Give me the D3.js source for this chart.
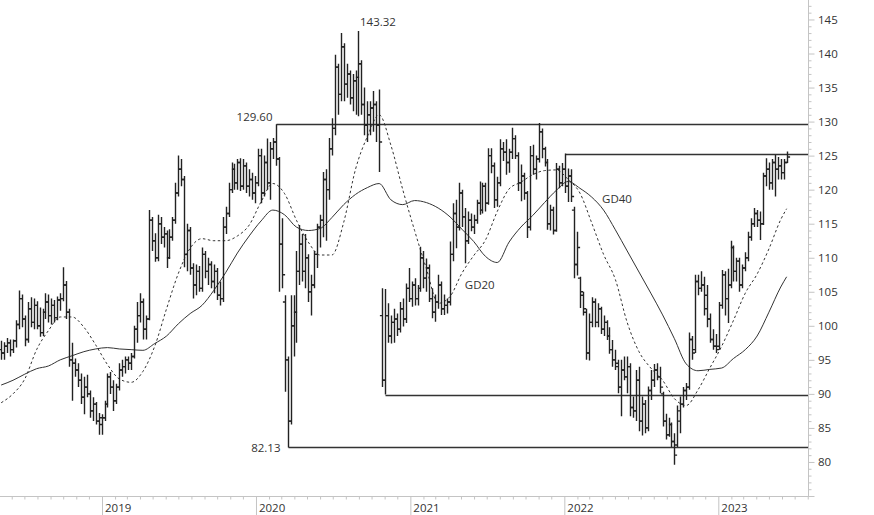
<!DOCTYPE html>
<html><head><meta charset="utf-8">
<script src="https://cdn.jsdelivr.net/npm/d3@7"></script>
<style>body{margin:0;background:#fff}svg{display:block;font-family:"Open Sans",sans-serif}</style>
</head><body><svg id="c" width="874" height="515"></svg>
<script>
// ---- DATA (weekly OHLC, first week starting 2018-05-07) ----
const firstWeek = "2018-05-07";
const opens = [
96.5,96.0,97.0,97.5,96.5,97.8,100.2,104.0,101.0,98.0,
102.5,100.5,103.0,100.0,99.0,102.0,103.5,101.5,103.0,101.2,
103.8,104.0,106.0,102.0,95.0,94.5,93.5,92.0,89.5,91.0,
90.0,87.5,88.5,86.0,85.5,86.5,88.5,92.5,91.0,89.0,
91.0,93.5,94.0,95.0,94.5,95.5,99.5,101.5,103.5,99.5,
101.0,115.5,112.5,110.0,115.0,113.0,113.5,110.0,113.0,115.5,
119.5,123.0,121.5,110.5,114.0,108.5,106.0,108.0,105.5,110.5,
108.0,109.0,106.5,108.0,104.5,104.0,114.5,116.5,120.0,123.0,
121.0,124.0,120.5,123.5,120.5,121.5,119.5,121.0,125.0,119.5,
124.0,121.0,126.0,127.0,124.5,112.0,103.5,95.0,86.0,100.0,
102.0,108.0,112.0,108.0,110.0,105.0,106.0,110.5,114.5,115.5,
121.5,120.0,126.0,129.0,138.0,134.0,141.0,135.5,137.0,133.5,
136.0,136.5,138.5,132.5,129.5,131.0,132.0,132.5,129.5,101.5,
92.0,101.5,98.5,100.5,101.0,99.5,102.5,101.0,105.5,104.0,
106.0,104.0,105.5,110.0,107.0,108.5,104.0,102.0,103.5,106.0,
102.5,103.0,103.5,110.5,116.5,114.5,119.5,116.0,112.5,115.5,
114.5,115.5,118.0,117.0,120.5,118.0,125.0,123.5,118.5,121.0,
126.0,125.5,124.0,125.5,127.5,125.0,121.0,122.0,119.5,114.5,
125.0,123.0,124.5,128.5,126.0,124.0,115.0,117.0,114.0,123.0,
121.0,123.0,120.5,122.0,117.0,109.0,107.0,104.5,102.0,96.0,
100.5,103.5,100.5,102.5,99.5,100.5,98.5,96.5,95.0,94.5,
91.0,93.5,92.5,94.0,88.0,87.5,92.0,86.0,88.5,85.0,
90.5,92.0,93.5,92.5,90.0,86.0,84.0,85.5,83.0,82.5,
86.0,88.5,90.5,91.0,98.0,96.5,106.5,105.5,106.0,104.5,
101.0,98.0,97.0,97.0,103.0,107.5,104.0,106.0,111.5,108.0,
109.5,106.0,108.5,110.0,113.0,115.0,116.5,115.5,115.0,122.0,
123.0,121.0,124.0,123.0,123.5,122.5,124.0];
const highs = [
97.8,97.6,98.2,98.0,98.0,100.8,105.2,104.6,101.5,103.5,
104.2,104.0,103.6,102.7,102.5,104.8,104.6,104.0,103.8,104.3,
104.8,108.6,106.6,102.5,97.5,95.2,94.5,93.0,92.5,92.8,
90.5,89.5,88.8,87.2,87.0,89.0,93.0,93.2,92.0,91.5,
94.5,95.0,95.5,95.5,96.0,100.0,103.5,104.8,104.0,101.5,
117.0,116.0,113.6,116.3,116.0,114.5,114.0,114.2,116.0,121.0,
125.0,124.5,122.0,115.0,114.5,109.2,109.0,108.8,111.5,111.0,
110.0,109.5,109.0,108.5,106.5,116.0,117.5,121.0,124.0,123.8,
124.5,124.6,124.5,124.0,123.0,122.5,122.0,126.0,126.0,125.0,
127.5,127.0,127.6,129.6,124.8,115.8,104.5,95.5,104.5,104.5,
111.0,114.8,113.5,113.5,110.5,107.5,111.0,115.0,116.3,122.6,
123.0,127.6,130.5,139.8,138.5,143.0,141.5,138.5,137.5,137.0,
137.5,143.32,139.0,135.0,133.0,133.0,134.5,133.0,134.7,105.5,
105.4,103.3,101.5,102.5,101.8,103.5,104.0,106.2,108.5,106.5,
107.0,106.0,111.6,111.0,109.9,109.0,105.5,104.6,107.5,106.5,
104.6,104.0,112.4,118.0,118.5,121.0,120.0,117.3,116.8,116.5,
116.3,118.5,121.2,121.0,121.0,126.1,126.1,124.0,121.9,127.4,
127.0,127.4,126.0,129.1,128.0,125.5,123.7,122.5,119.8,126.4,
126.6,125.0,129.8,129.0,126.3,124.5,117.8,117.5,123.9,123.5,
123.9,125.3,123.1,123.0,117.5,113.8,107.2,105.0,102.5,101.8,
104.2,104.0,103.3,102.8,101.5,100.8,99.8,97.9,96.5,95.0,
95.0,95.5,95.5,94.5,89.6,93.5,94.0,89.6,89.1,91.1,
93.5,94.4,94.5,94.0,90.3,87.1,86.5,85.8,84.2,88.3,
89.6,91.0,91.6,99.0,98.5,107.5,107.5,108.0,107.2,106.0,
101.8,99.5,98.8,103.5,108.2,108.0,108.4,112.5,111.8,110.0,
110.0,109.0,110.8,113.8,115.8,117.3,117.0,116.8,122.5,124.6,
124.0,124.5,125.1,124.8,124.5,124.5,125.6];
const lows = [
95.0,95.0,96.0,95.5,96.0,96.8,99.5,99.8,97.0,97.5,
99.8,99.5,99.5,98.4,98.5,101.0,100.5,100.2,100.5,100.8,
102.2,103.6,101.0,94.0,89.0,92.5,91.0,88.5,87.0,89.5,
86.5,86.0,85.5,84.0,84.0,86.0,88.0,90.0,87.5,88.5,
90.5,92.5,93.0,93.5,93.5,95.2,97.5,100.5,98.0,98.0,
100.8,111.0,109.4,109.5,112.0,111.5,108.5,109.8,112.5,115.0,
119.0,120.5,108.6,108.0,107.5,104.0,104.5,105.0,105.0,107.0,
106.0,105.5,104.8,103.8,103.0,103.5,113.5,116.0,119.5,120.0,
120.0,119.8,120.0,119.5,119.0,118.5,118.0,120.5,118.0,119.0,
120.0,118.5,124.5,123.5,105.0,105.5,90.3,82.13,85.5,95.5,
97.5,106.0,106.5,105.5,103.5,101.5,105.5,108.5,111.5,113.0,
112.5,118.5,125.0,128.0,131.0,133.0,133.0,133.5,132.5,131.5,
131.0,130.8,131.0,128.0,127.0,128.0,128.5,127.0,122.6,91.0,
89.9,97.5,97.4,97.5,98.5,99.0,99.9,100.4,103.5,102.8,
103.0,103.0,105.0,105.5,105.0,103.5,101.1,100.6,102.5,101.6,
101.6,101.8,103.0,109.5,111.4,114.0,114.5,109.2,112.0,113.9,
113.5,115.0,116.3,116.5,116.8,117.8,122.4,117.3,117.5,120.5,
124.2,122.2,122.5,124.5,124.5,119.8,118.3,118.5,112.9,114.0,
122.2,121.5,124.0,124.6,123.4,114.1,114.0,113.4,113.8,120.2,
120.5,119.5,118.2,118.2,107.0,107.4,102.6,101.5,95.0,94.9,
99.8,99.8,99.8,98.8,98.5,97.9,95.9,94.0,93.5,90.1,
86.7,92.0,90.1,86.7,86.5,86.0,84.5,83.9,84.2,84.5,
89.1,91.0,92.0,90.1,85.2,83.3,83.7,82.2,79.6,82.2,
84.2,88.0,89.1,90.6,95.0,96.0,104.5,105.0,101.5,99.8,
97.5,96.5,96.0,96.5,102.5,101.5,100.4,105.5,106.5,106.5,
105.0,105.5,108.0,109.5,112.5,114.5,114.5,112.6,114.8,120.5,
120.0,120.0,119.0,121.5,121.5,121.5,123.9];
const closes = [
96.0,97.0,97.5,96.5,97.8,100.2,104.0,101.0,98.0,102.5,
100.5,103.0,100.0,99.0,102.0,103.5,101.5,103.0,101.2,103.8,
104.0,106.0,102.0,95.0,94.5,93.5,92.0,89.5,91.0,90.0,
87.5,88.5,86.0,86.5,86.5,88.5,92.5,91.0,89.0,91.0,
93.5,94.0,95.0,94.5,95.5,99.5,101.5,103.5,99.5,101.0,
115.5,112.5,110.0,115.0,113.0,113.5,110.0,113.0,115.5,119.5,
123.0,121.5,110.5,114.0,108.5,106.0,108.0,105.5,110.5,108.0,
109.0,106.5,108.0,104.5,104.0,114.5,116.5,120.0,123.0,121.0,
124.0,120.5,123.5,120.5,121.5,119.5,121.0,125.0,119.5,124.0,
121.0,126.0,127.0,124.5,112.0,107.5,95.0,86.0,100.0,102.0,
108.0,112.0,108.0,110.0,105.0,106.0,110.5,114.5,115.5,121.5,
120.0,126.0,129.0,138.0,134.0,141.0,135.5,137.0,133.5,136.0,
136.5,138.5,132.5,129.5,131.0,132.0,132.5,129.5,127.0,92.0,
101.5,98.5,100.5,101.0,99.5,102.5,101.0,105.5,104.0,106.0,
104.0,105.5,110.0,107.0,108.5,104.0,102.0,103.5,106.0,102.5,
103.0,103.5,110.5,116.5,114.5,119.5,116.0,112.5,115.5,114.5,
115.5,118.0,117.0,120.5,118.0,125.0,123.5,118.5,121.0,126.0,
125.5,124.0,125.5,127.5,125.0,121.0,122.0,119.5,114.5,125.0,
123.0,124.5,128.5,126.0,124.0,115.0,117.0,114.0,123.0,121.0,
123.0,120.5,122.0,119.0,109.0,111.5,105.0,102.5,96.0,100.5,
103.5,100.5,102.5,99.5,100.5,98.5,96.5,95.0,94.0,91.0,
93.5,92.5,94.0,88.0,87.5,92.0,86.0,88.5,85.0,90.5,
92.0,93.5,92.5,91.0,86.0,84.0,85.5,83.0,81.0,87.5,
88.5,90.5,91.0,98.0,96.0,106.5,105.5,106.0,102.5,101.0,
98.0,97.0,96.5,103.0,107.5,104.0,106.0,111.5,108.0,109.5,
106.0,108.5,110.0,113.0,115.0,116.5,115.5,115.0,122.0,123.0,
121.0,124.0,123.0,123.5,122.5,124.0,124.8];

// moving averages, at these week numbers
const maWeeks = [0,4,8,12,16,20,24,28,32,36,40,44,48,52,56,60,64,68,72,76,80,84,88,92,96,100,
  104,108,112,116,120,124,128,132,136,140,144,148,152,156,160,164,168,172,176,180,184,188,192,196,
  200,204,208,212,216,220,224,228,232,236,240,244,248,252,256,260,264,266];
const gd20 = [
88.7,90.0,92.2,96.5,99.3,101.3,101.3,99.8,97.2,94.3,
92.2,91.7,93.3,97.0,102.5,107.7,111.4,112.8,112.5,112.5,
113.2,114.8,118.2,120.9,119.4,115.5,112.3,110.4,110.4,115.2,
123.0,127.8,131.0,126.5,120.0,114.0,108.4,103.3,104.3,107.7,
110.3,112.6,116.8,120.1,121.1,122.2,122.8,122.9,121.5,119.5,
115.1,110.5,106.8,100.5,96.2,93.8,92.0,89.3,88.3,90.6,
93.8,97.0,100.8,104.8,107.6,111.3,115.6,117.2];
const gd40 = [
91.3,92.0,92.9,93.7,94.1,95.0,95.6,96.2,96.6,96.8,
96.6,96.5,96.4,97.4,98.5,100.3,101.8,103.0,105.2,107.8,
110.7,113.2,115.4,117.0,116.3,114.5,114.0,114.3,115.9,117.8,
119.3,120.3,120.9,118.5,117.8,118.4,118.1,117.3,116.0,114.2,
112.4,110.2,109.3,112.3,114.5,116.2,118.1,119.9,121.2,120.2,
118.9,117.0,114.1,111.0,107.9,104.8,101.6,98.1,94.4,93.4,
93.6,93.8,95.2,96.5,98.5,102.0,105.7,107.2];

// horizontal levels: value, week where the line starts, label
const levelValues = [129.60, 125.3, 89.9, 82.13];
const levelWeeks  = [93, 191, 130, 97];
const levelLabels = ["129.60", "", "", "82.13"];
const peakLabel = {week:121, value:143.32, text:"143.32"};
const maLabels = [{text:"GD20", week:157, value:105.4}, {text:"GD40", week:203.5, value:118.0}];
const yTickValues = d3.range(75, 148, 1);

// ---- CHART ----
const svg = d3.select("#c");
svg.append("rect").attr("width",874).attr("height",515).attr("fill","#fff");
const plotW = 808, axisY = 496;
const t0 = new Date(firstWeek + "T00:00:00Z").getTime();
const weekDate = w => new Date(t0 + w*7*864e5);

const x = d3.scaleUtc()
  .domain([new Date(Date.UTC(2019,0,1)), new Date(Date.UTC(2023,0,1))])
  .range([102, 718.3]);
x.domain([x.invert(0), x.invert(plotW)]).range([0, plotW]);
const y = d3.scaleLinear().domain([75, 147.86]).range([axisY, 0]);

const ink = "#222";
const px = w => Math.round(x(weekDate(w))) + 0.5;

// moving averages
const line = d3.line().x((d,i)=>x(weekDate(maWeeks[i]))).y(d=>y(d)).curve(d3.curveMonotoneX);
svg.append("path").attr("d", line(gd40)).attr("fill","none").attr("stroke","#333").attr("stroke-width",1);
svg.append("path").attr("d", line(gd20)).attr("fill","none").attr("stroke","#333").attr("stroke-width",1)
  .attr("stroke-dasharray","2.5,2.5");

// levels
levelValues.forEach((v,k)=>{
  const yy = Math.round(y(v)) + 0.5;
  const xs = px(levelWeeks[k]);
  svg.append("line").attr("x1",xs).attr("x2",plotW).attr("y1",yy).attr("y2",yy)
    .attr("stroke","#333").attr("stroke-width",1.3);
});

// OHLC bars
const bars = svg.append("g").attr("stroke",ink).attr("stroke-width",1.4).attr("fill","none");
opens.forEach((o,i)=>{
  const xx = px(i);
  bars.append("path").attr("d",
    `M${xx},${y(highs[i])}V${y(lows[i])}` +
    `M${xx-2.6},${y(o)}H${xx}` +
    `M${xx},${y(closes[i])}H${xx+2.6}`);
});

// labels
const txt = (t,xx,yy,anchor) => svg.append("text").text(t).attr("x",xx).attr("y",yy)
  .attr("text-anchor",anchor).attr("font-size","11.5px").attr("fill","#333");
txt(levelLabels[0], px(levelWeeks[0]) - 4, y(levelValues[0]) - 3.6, "end");
txt(levelLabels[3], px(levelWeeks[3]) - 8, y(levelValues[3]) + 4.4, "end");
txt(peakLabel.text, px(peakLabel.week) + 1.5, y(peakLabel.value) - 5, "start");
maLabels.forEach(m => txt(m.text, x(weekDate(m.week)), y(m.value), "start"));

// right axis
const ya = svg.append("g").attr("transform",`translate(${plotW+0.5},0)`)
  .call(d3.axisRight(y).tickValues(yTickValues).tickSize(3).tickPadding(7)
    .tickFormat(d => (d%5===0 && d>=80) ? d : ""));
ya.select(".domain").attr("d", `M0,0V${axisY+1}`).attr("stroke","#c4c4c4");
ya.selectAll(".tick line").attr("stroke","#c4c4c4").attr("x2", d => d%5===0 ? 6 : 3);
ya.selectAll(".tick text").attr("font-size","11.5px").attr("font-family","Open Sans")
  .attr("fill","#333").attr("dy","0.32em").attr("x",9.5);

// bottom axis
const xa = svg.append("g").attr("transform",`translate(0,${axisY+0.5})`)
  .call(d3.axisBottom(x).ticks(d3.utcMonth.every(1)).tickSize(3)
    .tickFormat(d => d.getUTCMonth()===0 ? d.getUTCFullYear() : ""));
xa.select(".domain").attr("d", `M0,0H${plotW+1}`).attr("stroke","#c4c4c4");
xa.selectAll(".tick line").attr("stroke","#c4c4c4").attr("y2", d => d.getUTCMonth()===0 ? 19 : 3);
xa.selectAll(".tick text").attr("font-size","11.5px").attr("font-family","Open Sans")
  .attr("fill","#333").attr("text-anchor","start").attr("x",2.5).attr("y",15.5).attr("dy",null);
</script></body></html>
